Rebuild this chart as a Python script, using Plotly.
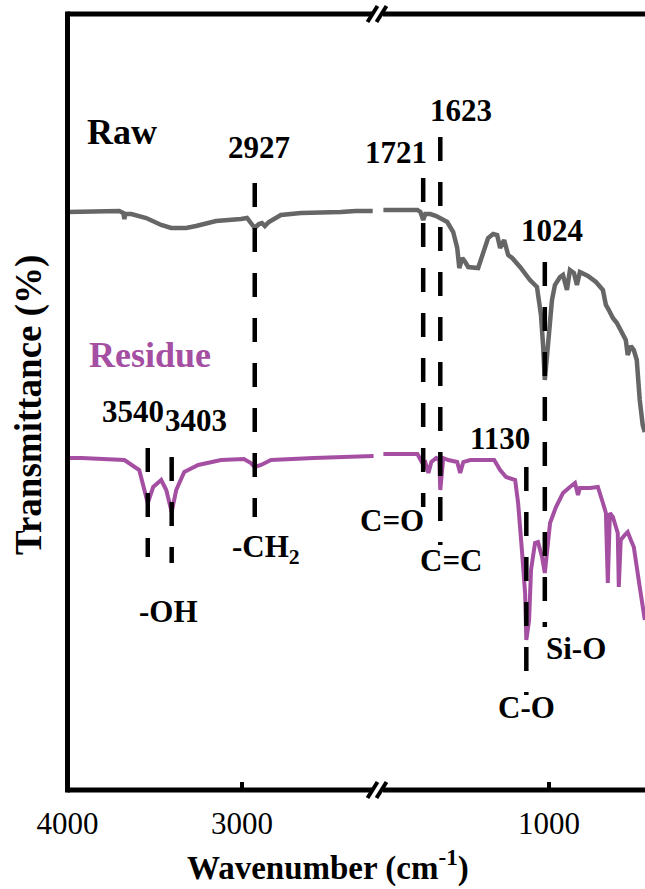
import plotly.graph_objects as go

# ---------------- data (wavenumber in cm-1, transmittance in arbitrary units) -------------
raw_wn_high = [4000, 3806, 3703, 3680, 3674, 3669, 3634, 3549, 3463, 3406, 3320, 3263, 3149,
               3006, 2971, 2949, 2927, 2903, 2886, 2869, 2846, 2777, 2663, 2434, 2349, 2251]
raw_t_high = [577, 577, 578, 576, 570, 575, 575, 571, 564, 561, 561, 563, 568,
              570, 571, 566, 561, 565, 566, 563, 567, 574, 576, 577, 578, 578]

raw_wn_low = [1949, 1754, 1737, 1721, 1709, 1680, 1646, 1623, 1583, 1549, 1526, 1514, 1497,
              1480, 1463, 1406, 1377, 1349, 1320, 1297, 1280, 1257, 1234, 1211, 1166, 1109,
              1069, 1046, 1034, 1024, 1011, 1000, 983, 966, 937, 920, 897, 880, 857, 840,
              823, 777, 731, 691, 674, 657, 634, 611, 583, 560, 549, 531, 514, 497, 480,
              463, 451]
raw_t_low = [579, 579, 577, 569, 575, 575, 573, 571, 567, 557, 541, 521, 531,
             527, 522, 521, 537, 551, 555, 554, 541, 549, 534, 531, 522, 509,
             502, 474, 444, 409, 434, 459, 489, 504, 512, 514, 499, 519, 516, 504,
             517, 513, 507, 499, 484, 479, 471, 466, 457, 449, 434, 443, 439, 429, 389,
             364, 357]

res_wn_high = [4000, 3920, 3674, 3589, 3540, 3509, 3463, 3434, 3403, 3377, 3331, 3251, 3120,
               2989, 2949, 2927, 2891, 2834, 2589, 2360, 2246]
res_t_high = [331, 331, 329, 319, 286, 302, 309, 299, 277, 299, 317, 324, 329,
              330, 326, 322, 324, 329, 331, 333, 333]

res_wn_low = [1949, 1754, 1726, 1709, 1691, 1674, 1646, 1629, 1623, 1606, 1577, 1526, 1509,
              1491, 1451, 1394, 1314, 1280, 1246, 1194, 1177, 1154, 1137, 1130, 1114, 1103,
              1080, 1063, 1040, 1024, 1008, 994, 960, 920, 880, 851, 834, 823, 766, 720,
              691, 674, 663, 651, 634, 606, 600, 589, 566, 549, 531, 514, 480, 451]
res_t_low = [335, 335, 326, 327, 316, 327, 331, 329, 299, 331, 329, 327, 316,
             327, 329, 329, 329, 319, 312, 309, 286, 236, 196, 149, 169, 219,
             246, 247, 232, 216, 242, 266, 282, 296, 302, 306, 294, 301, 301, 302,
             286, 276, 206, 276, 272, 256, 202, 249, 254, 257, 249, 242, 202, 169]

# marked bands: wavenumber, top / bottom of the dashed guide (a.u.)
band_wn = [3540, 3403, 2927, 1721, 1623, 1130, 1024]
band_top = [341, 332, 606, 611, 652, 322, 527]
band_bottom = [232, 226, 272, 282, 244, 94, 162]

x_ticks_high = [4000, 3000]
x_ticks_low = [1000]

RAW_C = "#666666"
RES_C = "#a54fa3"
FONT = "Liberation Serif, Times New Roman, serif"

W, H = 645, 889
def px(x):
    return x / W
def py(y):
    return 1 - y / H

X_LEFT, X_BREAK, Y_TOP, Y_BOT = 67.5, 377, 14, 790

fig = go.Figure()
fig.add_trace(go.Scatter(x=raw_wn_high, y=raw_t_high, mode="lines", xaxis="x", yaxis="y",
                         line=dict(color=RAW_C, width=4.5), showlegend=False))
fig.add_trace(go.Scatter(x=raw_wn_low, y=raw_t_low, mode="lines", xaxis="x2", yaxis="y",
                         line=dict(color=RAW_C, width=4.5), showlegend=False))
fig.add_trace(go.Scatter(x=res_wn_high, y=res_t_high, mode="lines", xaxis="x", yaxis="y",
                         line=dict(color=RES_C, width=4), showlegend=False))
fig.add_trace(go.Scatter(x=res_wn_low, y=res_t_low, mode="lines", xaxis="x2", yaxis="y",
                         line=dict(color=RES_C, width=4), showlegend=False))

shapes = []
for wn, t0, t1 in zip(band_wn, band_top, band_bottom):
    xr = "x" if wn > 2000 else "x2"
    shapes.append(dict(type="line", xref=xr, yref="y", x0=wn, x1=wn, y0=t0, y1=t1,
                       line=dict(color="black", width=4.5, dash="24px,21px"), layer="above"))

# frame
fl = dict(color="black", width=5)
shapes.append(dict(type="line", xref="paper", yref="paper", x0=px(X_LEFT), x1=px(X_LEFT),
                   y0=py(Y_BOT + 2.5), y1=py(Y_TOP - 2.5), line=fl))
shapes.append(dict(type="line", xref="paper", yref="paper", x0=px(X_LEFT), x1=1.01,
                   y0=py(Y_TOP), y1=py(Y_TOP), line=fl))
shapes.append(dict(type="line", xref="paper", yref="paper", x0=px(X_LEFT), x1=1.01,
                   y0=py(Y_BOT), y1=py(Y_BOT), line=fl))
# axis break marks
for yb in (Y_TOP, Y_BOT):
    shapes.append(dict(type="rect", xref="paper", yref="paper", x0=px(372), x1=px(383),
                       y0=py(yb + 3), y1=py(yb - 3), line=dict(width=0), fillcolor="white"))
    for xb in (372.5, 381.5):
        shapes.append(dict(type="line", xref="paper", yref="paper",
                           x0=px(xb - 5), x1=px(xb + 5), y0=py(yb + 8), y1=py(yb - 8),
                           line=dict(color="black", width=4)))

ann = []
def label(text, xref, x, y, size=31, color="black"):
    ann.append(dict(text=f"<b>{text}</b>", xref=xref, yref="y", x=x, y=y, showarrow=False,
                    xanchor="center", yanchor="middle",
                    font=dict(family=FONT, size=size, color=color)))

label("Raw", "x", 3686, 657, size=36)
label("Residue", "x", 3526, 434, size=36, color=RES_C)
label("2927", "x", 2903, 641)
label("3540", "x", 3623, 378)
label("3403", "x", 3263, 369)
label("-CH<sub>2</sub>", "x", 2863, 240)
label("-OH", "x", 3423, 178)
label("1721", "x2", 1874, 636)
label("1623", "x2", 1503, 678)
label("1024", "x2", 983, 558)
label("1130", "x2", 1280, 351)
label("C=O", "x2", 1897, 269)
label("C=C", "x2", 1560, 229)
label("Si-O", "x2", 846, 141)
label("C-O", "x2", 1131, 82)

ann.append(dict(text="<b>Transmittance (%)</b>", xref="paper", yref="paper", x=px(29), y=py(405),
                textangle=-90, showarrow=False, xanchor="center", yanchor="middle",
                font=dict(family=FONT, size=37, color="black")))
ann.append(dict(text="<b>Wavenumber (cm<sup>-1</sup>)</b>", xref="paper", yref="paper",
                x=px(328), y=py(865), showarrow=False, xanchor="center", yanchor="middle",
                font=dict(family=FONT, size=33, color="black")))

axis_common = dict(showgrid=False, zeroline=False, showline=False, ticks="inside",
                   ticklen=8, tickwidth=4, tickcolor="black", automargin=False,
                   tickfont=dict(family=FONT, size=31, color="black"),
                   ticklabelstandoff=12)

fig.update_layout(
    width=W, height=H, autosize=False,
    margin=dict(l=0, r=0, t=0, b=0, pad=0, autoexpand=False),
    paper_bgcolor="white", plot_bgcolor="white",
    xaxis=dict(domain=[px(X_LEFT), px(X_BREAK)], range=[4000, 4000 - (X_BREAK - X_LEFT) / 0.1745],
               tickvals=x_ticks_high, ticktext=[str(v) for v in x_ticks_high], anchor="y",
               **axis_common),
    xaxis2=dict(domain=[px(X_BREAK), 1], range=[1000 + (549 - X_BREAK) / 0.1745, 1000 - (W - 549) / 0.1745],
                tickvals=x_ticks_low, ticktext=[str(v) for v in x_ticks_low], anchor="y",
                **axis_common),
    yaxis=dict(domain=[py(Y_BOT), py(Y_TOP)], range=[-1, 775], showgrid=False, zeroline=False,
               showline=False, showticklabels=False, ticks="", automargin=False),
    shapes=shapes, annotations=ann,
)

fig.write_html("out.html")
